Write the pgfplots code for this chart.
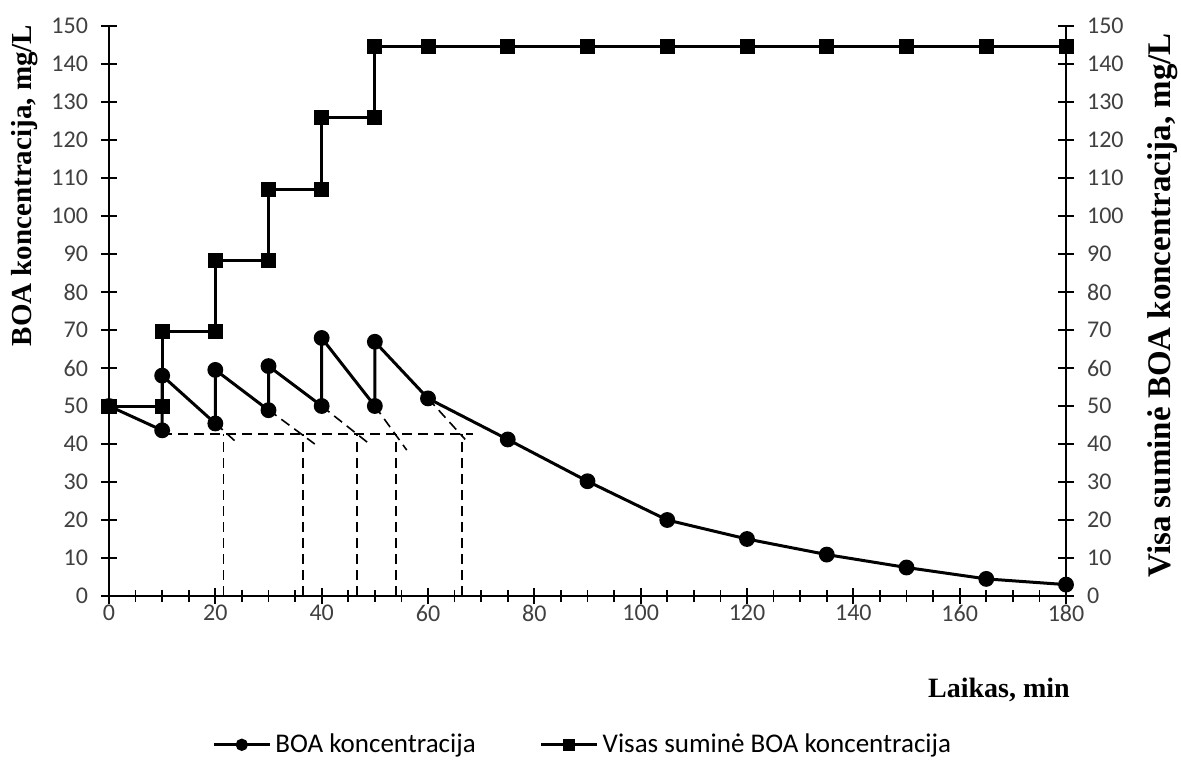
\documentclass[border=0pt]{standalone}
\usepackage{pgfplots}
\pgfplotsset{compat=1.18}
\usepackage{fontspec}
\setmainfont{Liberation Serif}
\newfontfamily\calib{Carlito}
\begin{document}
\begin{tikzpicture}
\useasboundingbox (-54.5pt,-82pt) rectangle (536pt,298pt);
\pgfplotsset{
  common/.style={
    at={(0,0)}, anchor=south west,
    scale only axis, width=478.5pt, height=285pt,
    xmin=0, xmax=180, ymin=0, ymax=150,
    ytick={0,10,...,150},
    tick align=center, major tick length=8pt, minor tick length=6pt,
    every tick/.style={black, line width=0.9pt},
    axis line style={line width=1.1pt},
    ticklabel style={font=\calib\fontsize{12}{14}\selectfont, text=black!75},
    /pgf/number format/assume math mode=true,
    clip=false,
  }
}
\begin{axis}[common,
  axis x line*=bottom, axis y line*=left,
  xtick={0,20,...,180}, minor xtick={0,5,...,180},
  yticklabel style={xshift=-3pt},
  xticklabel style={yshift=3pt},
  xlabel={\bfseries Laikas, min},
  xlabel style={at={(axis description cs:0.93,-0.165)}, anchor=center, font=\fontsize{14}{16}\selectfont},
  ylabel={\bfseries BOA koncentracija, mg/L},
  ylabel style={at={(axis description cs:-0.088,0.72)}, anchor=center, font=\fontsize{14.5}{16}\selectfont},
  legend style={at={(0.496,-0.261)}, anchor=center, draw=none, fill=none,
    legend columns=2, font=\calib\fontsize{13.5}{15}\selectfont,
    /tikz/every odd column/.append style={column sep=0pt},
    /tikz/every even column/.append style={column sep=30pt},
    inner xsep=0pt,
    legend cell align=left},
  legend image code/.code={%
    \draw[mark repeat=2, mark phase=2, #1] plot coordinates {(0pt,0pt) (14pt,0pt) (28pt,0pt)};},
  legend image post style={mark size=2.3pt},
]
% dashed construction lines
\addplot[forget plot, black, line width=0.8pt, dash pattern=on 5pt off 3pt] coordinates {(10,42.6) (68.5,42.6)};
\addplot[forget plot, black, line width=0.8pt, dash pattern=on 5pt off 3pt] coordinates {(21.5,0) (21.5,42.6)};
\addplot[forget plot, black, line width=0.8pt, dash pattern=on 5pt off 3pt] coordinates {(36.5,0) (36.5,42.6)};
\addplot[forget plot, black, line width=0.8pt, dash pattern=on 5pt off 3pt] coordinates {(46.6,0) (46.6,42.6)};
\addplot[forget plot, black, line width=0.8pt, dash pattern=on 5pt off 3pt] coordinates {(54.0,0) (54.0,42.6)};
\addplot[forget plot, black, line width=0.8pt, dash pattern=on 5pt off 3pt] coordinates {(66.4,0) (66.4,42.6)};
\addplot[forget plot, black, line width=0.8pt, dash pattern=on 5pt off 3pt] coordinates {(20,45.5) (24,40.4)};
\addplot[forget plot, black, line width=0.8pt, dash pattern=on 5pt off 3pt] coordinates {(30,49) (38.7,40)};
\addplot[forget plot, black, line width=0.8pt, dash pattern=on 5pt off 3pt] coordinates {(40,50) (49,40)};
\addplot[forget plot, black, line width=0.8pt, dash pattern=on 5pt off 3pt] coordinates {(50,50) (56,38.4)};
\addplot[forget plot, black, line width=0.8pt, dash pattern=on 5pt off 3pt] coordinates {(60,52) (67,41.2)};
% BOA koncentracija
\addplot[black, line width=1.5pt, mark=*, mark size=3.2pt] coordinates {
  (0,50) (10,43.6) (10,58) (20,45.4) (20,59.5) (30,48.9) (30,60.5) (40,50) (40,67.9) (50,50) (50,66.9) (60,52)
  (75,41.2) (90,30.2) (105,20) (120,15) (135,10.9) (150,7.5) (165,4.5) (180,3)};
\addlegendentry{BOA koncentracija}
% Visas sumine
\addplot[black, line width=1.5pt, mark=square*, mark size=3pt] coordinates {
  (0,50) (10,50) (10,69.5) (20,69.5) (20,88.2) (30,88.2) (30,107) (40,107) (40,126) (50,126) (50,144.6) (60,144.6)
  (75,144.6) (90,144.6) (105,144.6) (120,144.6) (135,144.6) (150,144.6) (165,144.6) (180,144.6)};
\addlegendentry{Visas suminė BOA koncentracija}
\end{axis}
\begin{axis}[common,
  axis x line=none, axis y line*=right,
  yticklabel style={xshift=3pt},
  ylabel={\bfseries Visa suminė BOA koncentracija, mg/L},
  ylabel style={at={(axis description cs:1.101,0.51)}, anchor=center, font=\fontsize{16.5}{18}\selectfont},
]
\end{axis}
\end{tikzpicture}
\end{document}
